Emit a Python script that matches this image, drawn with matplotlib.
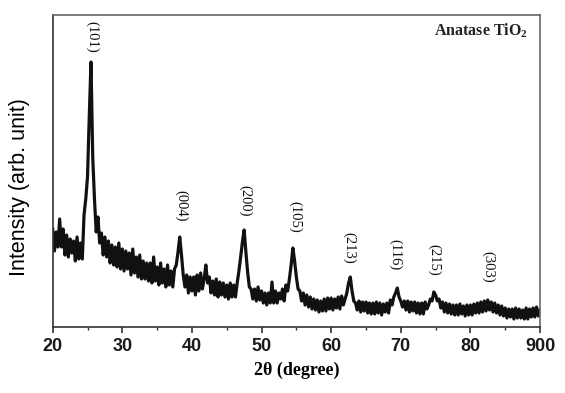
import matplotlib
matplotlib.use("Agg")
import matplotlib.pyplot as plt
import numpy as np

plt.rcParams["mathtext.fontset"] = "custom"
plt.rcParams["mathtext.rm"] = "Liberation Serif"
plt.rcParams["mathtext.bf"] = "Liberation Serif:bold"

# 2theta grid start/stop/step (degrees) and intensities (arb. units)
two_theta_start = 20.0
two_theta_step = 0.25
intensity = [
    98, 76, 95, 80,      # 20
    108, 80, 98, 72,     # 21
    92, 70, 88, 74,      # 22
    86, 66, 90, 68,      # 23
    84, 68, 112, 128,    # 24
    150, 210, 265, 170,  # 25
    128, 95, 110, 84,    # 26
    94, 72, 90, 70,      # 27
    86, 64, 82, 62,      # 28
    80, 60, 84, 58,      # 29
    78, 56, 76, 58,      # 30
    74, 52, 78, 54,      # 31
    70, 50, 72, 48,      # 32
    66, 48, 64, 46,      # 33
    64, 44, 70, 46,      # 34
    60, 42, 64, 44,      # 35
    58, 40, 62, 42,      # 36
    56, 40, 58, 62,      # 37
    75, 90, 72, 52,      # 38
    40, 52, 34, 50,      # 39
    36, 50, 32, 52,      # 40
    36, 54, 38, 48,      # 41
    62, 44, 50, 34,      # 42
    46, 32, 48, 30,      # 43
    45, 32, 44, 30,      # 44
    42, 28, 44, 30,      # 45
    42, 30, 44, 56,      # 46
    70, 85, 97, 75,      # 47
    55, 40, 38, 28,      # 48
    38, 26, 40, 27,      # 49
    36, 24, 34, 22,      # 50
    34, 24, 45, 24,      # 51
    36, 24, 34, 28,      # 52
    38, 26, 42, 36,      # 53
    48, 62, 79, 66,      # 54
    50, 38, 36, 26,      # 55
    34, 22, 32, 20,      # 56
    30, 18, 28, 17,      # 57
    27, 15, 26, 16,      # 58
    28, 16, 29, 18,      # 59
    29, 17, 28, 19,      # 60
    30, 18, 31, 22,      # 61
    28, 34, 44, 50,      # 62
    36, 26, 24, 17,      # 63
    26, 15, 25, 16,      # 64
    25, 14, 24, 13,      # 65
    24, 13, 25, 14,      # 66
    24, 12, 23, 15,      # 67
    24, 14, 27, 22,      # 68
    30, 34, 39, 30,      # 69
    26, 20, 26, 17,      # 70
    26, 15, 25, 16,      # 71
    25, 14, 24, 13,      # 72
    24, 13, 25, 18,      # 73
    22, 28, 26, 35,      # 74
    32, 26, 28, 19,      # 75
    25, 15, 24, 14,      # 76
    23, 13, 22, 12,      # 77
    22, 12, 23, 13,      # 78
    21, 11, 22, 12,      # 79
    22, 12, 23, 14,      # 80
    24, 14, 25, 15,      # 81
    26, 16, 27, 17,      # 82
    25, 15, 24, 14,      # 83
    22, 12, 21, 11,      # 84
    19, 9, 18, 10,       # 85
    18, 8, 19, 9,        # 86
    18, 9, 17, 8,        # 87
    19, 8, 18, 10,       # 88
    19, 10, 20, 11,      # 89
    17,                  # 90
]

peak_labels = ["(101)", "(004)", "(200)", "(105)", "(213)", "(116)", "(215)", "(303)"]
peak_label_x = [25.7, 38.5, 47.7, 54.8, 62.6, 69.25, 74.85, 82.5]
peak_label_y = [290, 121, 126, 110, 79, 72, 67, 60]

xtick_values = [20, 30, 40, 50, 60, 70, 80, 90]
xtick_labels = ["20", "30", "40", "50", "60", "70", "80", "900"]

two_theta = two_theta_start + two_theta_step * np.arange(len(intensity))

fig = plt.figure(figsize=(5.65, 3.93), dpi=100)
ax = fig.add_axes([52.7 / 565, 66 / 393, (540 - 52.7) / 565, (327 - 15) / 393])

ax.plot(two_theta, intensity, color="#111111", lw=2.3, solid_joinstyle="round")

ax.set_xlim(20, 90)
ax.set_ylim(0, 312)
ax.set_yticks([])
ax.set_xticks(xtick_values)
ax.set_xticklabels(xtick_labels, fontfamily="Liberation Sans", fontsize=13, fontweight="bold")
ax.set_xticks(np.arange(25, 90, 10), minor=True)
ax.tick_params(axis="x", which="major", direction="out", length=4, width=1.2, pad=4, colors="#333333", labelcolor="#1a1a1a")
ax.tick_params(axis="x", which="minor", direction="out", length=2.5, width=1.0, colors="#333333")
for s in ax.spines.values():
    s.set_color("#666666")
    s.set_linewidth(1.2)
ax.spines["bottom"].set_color("#333333")
ax.spines["left"].set_color("#333333")

for lab, lx, ly in zip(peak_labels, peak_label_x, peak_label_y):
    ax.text(lx, ly, lab, rotation=270, ha="center", va="center",
            fontfamily="Liberation Serif", fontsize=10.5, color="#111111")

ax.text(528, 393 - 31, r"Anatase TiO$_\mathbf{2}$", transform=None, ha="right", va="center",
        fontfamily="Liberation Serif", fontweight="bold", fontsize=11.5, color="#222222")

ax.set_xlabel("2θ (degree)", fontfamily="Liberation Serif", fontweight="bold", fontsize=13, labelpad=5)
ax.set_ylabel("Intensity (arb. unit)", fontfamily="Liberation Sans", fontsize=15.5)
ax.yaxis.set_label_coords(-0.046, 0.45)

fig.savefig("out.png", dpi=100)
